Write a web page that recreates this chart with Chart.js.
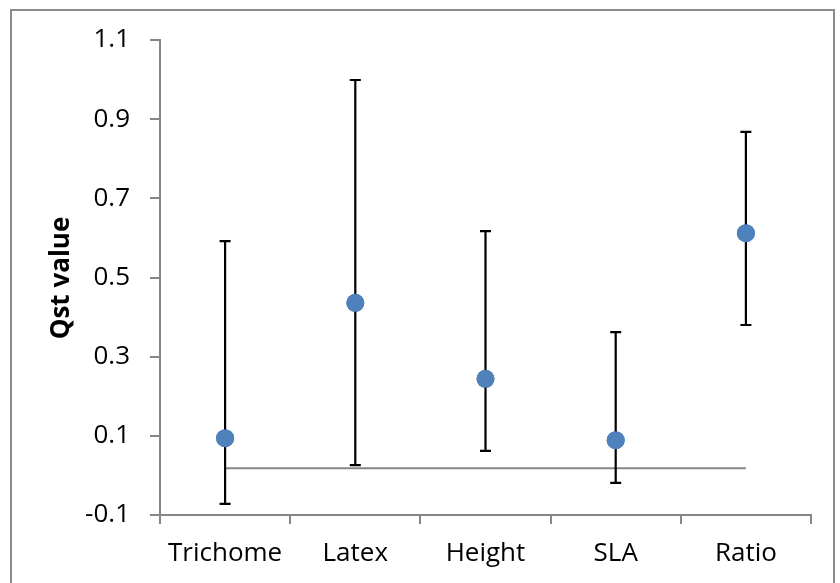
<!DOCTYPE html>
<html><head><meta charset="utf-8">
<script src="https://cdn.jsdelivr.net/npm/chart.js@4"></script>
<style>html,body{margin:0;padding:0;background:#fff}#wrap{width:840px;height:583px;position:relative}</style>
</head><body><div id="wrap"><canvas id="c" width="840" height="583"></canvas></div>
<script>
const categories = ["Trichome","Latex","Height","SLA","Ratio"];
const qstValues = [0.094, 0.436, 0.244, 0.089, 0.612];
const lowerValues = [-0.072, 0.026, 0.062, -0.019, 0.380];
const upperValues = [0.592, 0.999, 0.617, 0.362, 0.868];
const referenceValue = 0.018;
const yTicks = [-0.1, 0.1, 0.3, 0.5, 0.7, 0.9, 1.1];

const FONT = "'Open Sans'";

const frame = {
  id: 'frame',
  beforeDraw(chart){
    const ctx = chart.ctx;
    ctx.save();
    ctx.fillStyle = '#fff';
    ctx.fillRect(0,0,chart.width,chart.height);
    ctx.strokeStyle = '#8c8c8c';
    ctx.lineWidth = 2;
    ctx.strokeRect(11,10,823,600);
    ctx.restore();
  },
  afterDraw(chart){
    const ctx = chart.ctx;
    ctx.save();
    ctx.translate(62, 278);
    ctx.rotate(-Math.PI/2);
    ctx.font = "bold 26px " + FONT;
    ctx.fillStyle = '#000';
    ctx.textAlign = 'center';
    ctx.textBaseline = 'middle';
    ctx.fillText('Qst value', 0, 0);
    ctx.restore();
  }
};

const errorBars = {
  id: 'errorBars',
  afterDatasetsDraw(chart){
    const ctx = chart.ctx, x = chart.scales.x, y = chart.scales.y;
    ctx.save();
    ctx.strokeStyle = '#000';
    ctx.lineWidth = 2.2;
    categories.forEach((c,i)=>{
      const px = x.getPixelForValue(i);
      const t = y.getPixelForValue(upperValues[i]);
      const b = y.getPixelForValue(lowerValues[i]);
      ctx.beginPath();
      ctx.moveTo(px,t); ctx.lineTo(px,b);
      ctx.moveTo(px-5.5,t); ctx.lineTo(px+5.5,t);
      ctx.moveTo(px-5.5,b); ctx.lineTo(px+5.5,b);
      ctx.stroke();
    });
    ctx.restore();
    const meta = chart.getDatasetMeta(1);
    meta.data.forEach(p=>p.draw(ctx));
  }
};

new Chart(document.getElementById('c'), {
  type: 'line',
  data: {
    labels: categories,
    datasets: [
      { data: categories.map(()=>referenceValue), borderColor:'#868686', borderWidth:2, pointRadius:0, fill:false, order:2 },
      { data: qstValues, showLine:false, pointRadius:9, pointHoverRadius:9, pointBackgroundColor:'#4f81bd', pointBorderColor:'#4f81bd', pointBorderWidth:0, order:1 }
    ]
  },
  options: {
    responsive:false, animation:false, devicePixelRatio:1,
    layout:{padding:{left:0, right:29, top:40, bottom:0}},
    plugins:{legend:{display:false}, tooltip:{enabled:false}},
    scales:{
      x:{
        type:'category', offset:true,
        grid:{offset:true, drawOnChartArea:false, drawTicks:true, tickLength:9, color:'#868686', lineWidth:2},
        border:{color:'#868686', width:2},
        ticks:{font:{family:FONT, size:26}, color:'#000', padding:14},
        afterFit(s){ s.height = 68; }
      },
      y:{
        min:-0.1, max:1.1,
        afterBuildTicks(s){ s.ticks = yTicks.map(v=>({value:v})); },
        grid:{drawOnChartArea:false, drawTicks:true, tickLength:10, color:'#868686', lineWidth:2},
        border:{color:'#868686', width:2},
        ticks:{font:{family:FONT, size:26}, color:'#000', padding:20, callback:(v)=>v.toFixed(1)},
        afterFit(s){ s.width = 160; }
      }
    }
  },
  plugins:[frame, errorBars]
});
</script></body></html>
